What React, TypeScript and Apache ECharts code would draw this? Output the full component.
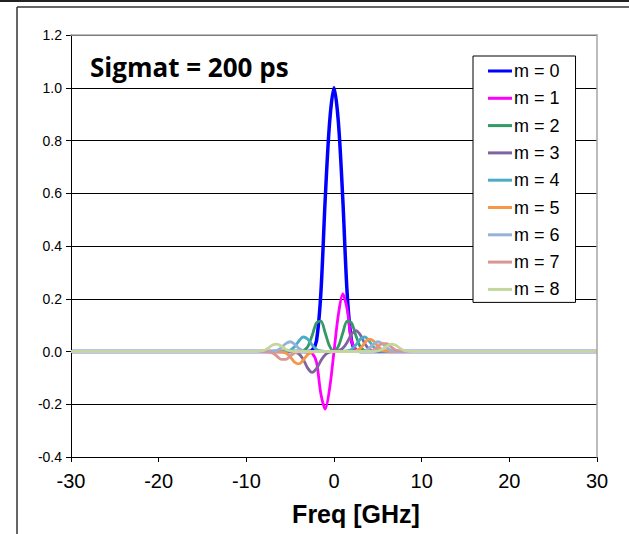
import React, { useEffect, useRef } from "react";
import * as echarts from "echarts";

// Frequency sample points [GHz]
const freq = [
  -30,
  -9, -8.5, -8, -7.5, -7, -6.5, -6, -5.5, -5, -4.5, -4, -3.5, -3, -2.5, -2, -1.5, -1, -0.5,
  0,
  0.5, 1, 1.5, 2, 2.5, 3, 3.5, 4, 4.5, 5, 5.5, 6, 6.5, 7, 7.5, 8, 8.5, 9,
  30,
];

const m0 = [0,
  0, 0, 0, 0, 0, 0, 0, 0, 0, 0, 0, 0, 0, 0.004, 0.04, 0.22, 0.58, 0.87,
  1.0,
  0.87, 0.58, 0.22, 0.04, 0.004, 0, 0, 0, 0, 0, 0, 0, 0, 0, 0, 0, 0, 0,
  0];
const m1 = [0,
  0, 0, 0, 0, 0, 0, 0, 0, 0, 0, 0, 0, -0.001, -0.006, -0.04, -0.16, -0.218, -0.14,
  0,
  0.14, 0.218, 0.16, 0.04, 0.006, 0.001, 0, 0, 0, 0, 0, 0, 0, 0, 0, 0, 0, 0,
  0];
const m2 = [0,
  0, 0, 0, 0, 0, 0, 0, 0, 0, 0, 0, 0.003, 0.018, 0.06, 0.108, 0.115, 0.07, 0.02,
  0,
  0.02, 0.07, 0.115, 0.108, 0.06, 0.018, 0.003, 0, 0, 0, 0, 0, 0, 0, 0, 0, 0, 0,
  0];
const m3 = [0,
  0, 0, 0, 0, 0, 0, 0, 0, 0, -0.002, -0.009, -0.03, -0.063, -0.079, -0.065, -0.035, -0.012, -0.003,
  0,
  0.003, 0.012, 0.035, 0.065, 0.079, 0.063, 0.03, 0.009, 0.002, 0, 0, 0, 0, 0, 0, 0, 0, 0,
  0];
const m4 = [0,
  0, 0, 0, 0, 0, 0, 0, 0.001, 0.005, 0.018, 0.04, 0.055, 0.047, 0.025, 0.008, 0.002, 0, 0,
  0,
  0, 0, 0.002, 0.008, 0.025, 0.047, 0.055, 0.04, 0.018, 0.005, 0.001, 0, 0, 0, 0, 0, 0, 0,
  0];
const m5 = [0,
  0, 0, 0, 0, 0, 0, -0.001, -0.006, -0.02, -0.04, -0.047, -0.032, -0.012, -0.003, 0, 0, 0, 0,
  0,
  0, 0, 0, 0, 0.003, 0.012, 0.032, 0.047, 0.04, 0.02, 0.006, 0.001, 0, 0, 0, 0, 0, 0,
  0];
const m6 = [0,
  0, 0, 0, 0, 0.001, 0.004, 0.015, 0.03, 0.037, 0.028, 0.012, 0.003, 0, 0, 0, 0, 0, 0,
  0,
  0, 0, 0, 0, 0, 0, 0.003, 0.012, 0.028, 0.037, 0.03, 0.015, 0.004, 0.001, 0, 0, 0, 0,
  0];
const m7 = [0,
  0, 0, 0, -0.001, -0.006, -0.018, -0.03, -0.03, -0.018, -0.006, -0.001, 0, 0, 0, 0, 0, 0, 0,
  0,
  0, 0, 0, 0, 0, 0, 0, 0.001, 0.006, 0.018, 0.03, 0.03, 0.018, 0.006, 0.001, 0, 0, 0,
  0];
const m8 = [0,
  0, 0.001, 0.004, 0.013, 0.025, 0.028, 0.02, 0.008, 0.002, 0, 0, 0, 0, 0, 0, 0, 0, 0,
  0,
  0, 0, 0, 0, 0, 0, 0, 0, 0, 0.002, 0.008, 0.02, 0.028, 0.025, 0.013, 0.004, 0.001, 0,
  0];

const seriesNames = ["m = 0", "m = 1", "m = 2", "m = 3", "m = 4", "m = 5", "m = 6", "m = 7", "m = 8"];
const seriesValues = [m0, m1, m2, m3, m4, m5, m6, m7, m8];
const seriesColors = ["#0000FF", "#FF00FF", "#339966", "#8064A2", "#4BACC6", "#F79646", "#95B3D7", "#D99694", "#C3D69B"];

const xMin = -30, xMax = 30, xStep = 10;
const yMin = -0.4, yMax = 1.2, yStep = 0.2;

const ARIAL = "'Liberation Sans', Arial, sans-serif";

export default function App() {
  const ref = useRef<HTMLDivElement>(null);
  useEffect(() => {
    if (!ref.current) return;
    const chart = echarts.init(ref.current, null, { renderer: "svg" });
    const series = seriesNames.map((name, k) => ({
      name,
      type: "line",
      data: freq.map((f, i) => [f, seriesValues[k][i]]),
      showSymbol: false,
      smooth: 0.3,
      silent: true,
      lineStyle: { color: seriesColors[k], width: k === 0 ? 3.5 : 2.8 },
      itemStyle: { color: seriesColors[k] },
      emphasis: { disabled: true },
      z: 2 + k * 0.01,
    }));
    chart.setOption({
      animation: false,
      backgroundColor: "#ffffff",
      grid: { left: 71, right: 32, top: 35, bottom: 77, containLabel: false },
      xAxis: [
        {
          type: "value", min: xMin, max: xMax, interval: xStep, position: "bottom",
          axisLine: { show: true, onZero: false, lineStyle: { color: "#000", width: 1 } },
          axisTick: { show: true, inside: false, length: 5, lineStyle: { color: "#000" } },
          axisLabel: { fontSize: 20, color: "#000", fontFamily: ARIAL, margin: 14 },
          splitLine: { show: false },
          name: "Freq [GHz]", nameLocation: "middle", nameGap: 44,
          nameTextStyle: { fontSize: 25, fontWeight: "bold", color: "#000", fontFamily: ARIAL, padding: [0, 0, 0, 44] },
        },
        {
          type: "value", min: xMin, max: xMax, position: "top", z: 5,
          axisLine: { show: true, onZero: false, lineStyle: { color: "#a6a6a6", width: 1.5 } },
          axisTick: { show: false }, axisLabel: { show: false }, splitLine: { show: false },
        },
      ],
      yAxis: [
        {
          type: "value", min: yMin, max: yMax, interval: yStep,
          axisLine: { show: true, onZero: false, lineStyle: { color: "#000", width: 1 } },
          axisTick: { show: true, inside: false, length: 5, lineStyle: { color: "#000" } },
          axisLabel: {
            fontSize: 14, color: "#000", fontFamily: ARIAL, margin: 9,
            formatter: (v: number) => (Math.abs(v) < 1e-9 ? "0.0" : v.toFixed(1)),
          },
          splitLine: { show: true, lineStyle: { color: "#000", width: 1 } },
        },
        {
          type: "value", min: yMin, max: yMax, position: "right", z: 5,
          axisLine: { show: true, onZero: false, lineStyle: { color: "#a6a6a6", width: 1.5 } },
          axisTick: { show: false }, axisLabel: { show: false }, splitLine: { show: false },
        },
      ],
      legend: {
        show: true, orient: "vertical", left: 473, top: 56,
        padding: [5, 16, 3, 15], itemGap: 7.3, itemWidth: 24, itemHeight: 3, icon: "rect",
        borderColor: "#000", borderWidth: 1, backgroundColor: "#fff",
        textStyle: { fontSize: 18, color: "#000", fontFamily: ARIAL, lineHeight: 20, padding: [0, 0, 0, -3] },
        data: seriesNames,
        selectedMode: false,
      },
      graphic: [
        { type: "line", shape: { x1: 0, y1: 1, x2: 629, y2: 1 }, style: { stroke: "#222", lineWidth: 2 }, silent: true },
        { type: "line", shape: { x1: 17, y1: 7, x2: 629, y2: 7 }, style: { stroke: "#333", lineWidth: 1.5 }, silent: true },
        { type: "line", shape: { x1: 17, y1: 7, x2: 17, y2: 534 }, style: { stroke: "#333", lineWidth: 1.5 }, silent: true },
        {
          type: "text", left: 90, top: 54, z: 10,
          style: { text: "Sigmat = 200 ps", fontSize: 26, fontWeight: "bold", fontFamily: "'Open Sans', sans-serif", fill: "#000" },
        },
      ],
      series,
    });
    return () => chart.dispose();
  }, []);
  return <div ref={ref} style={{ position: "fixed", left: 0, top: 0, width: 629, height: 534 }} />;
}
